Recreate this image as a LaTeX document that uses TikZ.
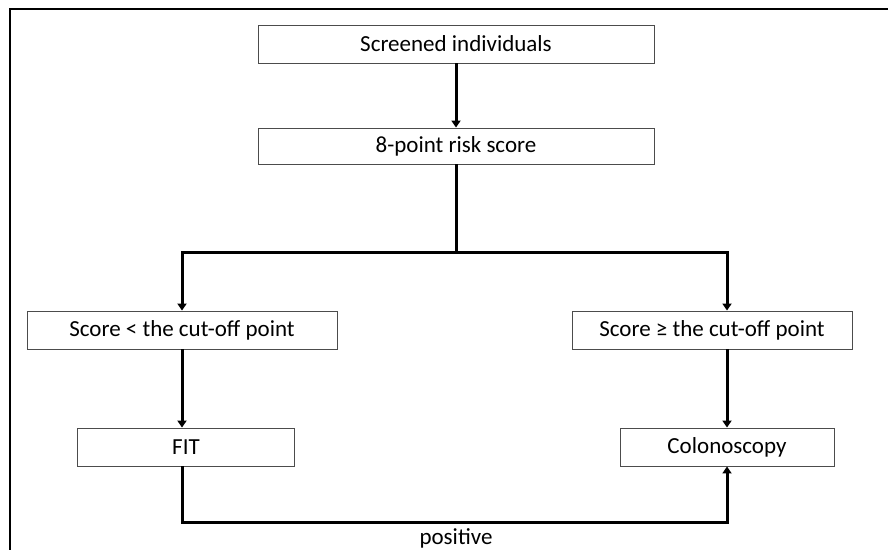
\documentclass[tikz,border=0pt]{standalone}
\usepackage{fontspec}
\setmainfont{Carlito}
\usetikzlibrary{arrows.meta}
\begin{document}
\begin{tikzpicture}[x=1pt,y=-1pt,
  txt/.style={font=\fontsize{23}{26}\selectfont},
  box/.style={txt, draw=black!70, line width=0.9pt, minimum height=38pt, inner sep=0pt,
    fill=white},
  conn/.style={line width=3pt, black},
  arr/.style={conn, -{Triangle[width=9pt,length=7pt]}},
  frame/.style={line width=1.5pt, black}]
\useasboundingbox (0,0) rectangle (888,550);
\fill[white] (0,0) rectangle (888,550);
\draw[frame] (888,9) -- (10,9) -- (10,550);

\node[box, minimum width=396pt] (b1) at (456,44) {Screened individuals};
\node[box, minimum width=396pt, minimum height=36pt] (b2) at (456,146) {8-point risk score};
\node[box, minimum width=310pt] (b3) at (182,330) {Score < the cut-off point};
\node[box, minimum width=280pt] (b4) at (712,330) {Score ≥ the cut-off point};
\node[box, minimum width=217pt] (b5) at (186,447) {FIT};
\node[box, minimum width=214pt] (b6) at (727,447) {Colonoscopy};

\coordinate (j) at (456,252);
\draw[arr] (b1.south) -- (b2.north);
\draw[conn] (b2.south) -- (j);
\draw[arr] (j) -| (b3.north);
\draw[arr] (j) -| (b4.north -| b6.north);
\draw[arr] (b3.south) -- (b3.south |- b5.north);
\draw[arr] (b4.south -| b6.north) -- (b6.north);
\draw[arr] (b5.south -| b3.south) -- ++(0,56) -| (b6.south);
\node[txt, inner sep=0pt] (pos) at (456,538) {positive};
\end{tikzpicture}
\end{document}
